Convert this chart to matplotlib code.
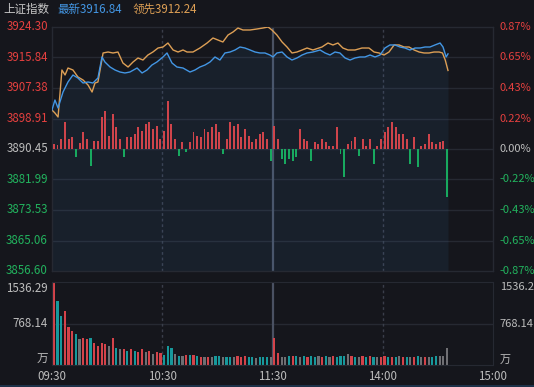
import numpy as np
import matplotlib
matplotlib.use("Agg")
import matplotlib.pyplot as plt
from matplotlib.patches import Rectangle

plt.rcParams['font.family'] = ['Noto Sans CJK SC', 'DejaVu Sans']

# ---------------- data ----------------
index_name = "上证指数"
latest_label = "最新3916.84"
lead_label = "领先3912.24"

price_ticks = [3924.30, 3915.84, 3907.38, 3898.91, 3890.45, 3881.99, 3873.53, 3865.06, 3856.60]
pct_ticks = ["0.87%", "0.65%", "0.43%", "0.22%", "0.00%", "-0.22%", "-0.43%", "-0.65%", "-0.87%"]
prev_close = 3890.45

time_ticks = [0, 60, 120, 180, 240]
time_labels = ["09:30", "10:30", "11:30", "14:00", "15:00"]

# latest price (minutes from open, price)
latest_t = [0, 1.6, 3.3, 6, 8.7, 11.4, 14.1, 16.9, 19.6, 22.3, 25, 27.2, 28.8, 31.6, 34.3, 37, 39.7,
            42.4, 46.3, 49, 51.7, 54.4, 57.1, 60.4, 62.6, 65.3, 68, 71.3, 75.1, 77.8, 80.5, 83.3, 86,
            88.7, 91.4, 94.1, 96.9, 99.6, 102.3, 105, 107.8, 110.5, 113.2, 115.9, 118.6, 120.3, 122.4,
            125.2, 127.9, 130.6, 133.3, 136.1, 138.8, 142, 145.9, 148.6, 151.3, 154, 156.7, 159.5,
            162.2, 164.9, 167.6, 170.3, 173.1, 175.8, 178.5, 181.2, 183.9, 186.7, 189.4, 192.1, 194.8,
            197.6, 200.3, 203, 205.7, 208.4, 211.2, 212.8, 214.5, 215.5]
latest_v = [3901.27, 3904.04, 3901.83, 3906.26, 3909.04, 3910.98, 3910.15, 3908.76, 3909.04, 3908.76,
            3910.15, 3915.98, 3914.59, 3913.20, 3912.37, 3911.81, 3911.54, 3911.81, 3912.92, 3911.54,
            3912.37, 3913.76, 3914.59, 3915.98, 3917.09, 3914.31, 3913.20, 3912.92, 3911.81, 3912.37,
            3913.20, 3913.76, 3914.59, 3915.98, 3915.14, 3917.09, 3917.36, 3917.92, 3918.75, 3918.47,
            3917.92, 3917.36, 3917.09, 3917.09, 3916.53, 3915.98, 3917.09, 3917.36, 3915.98, 3915.14,
            3915.70, 3916.53, 3917.09, 3917.36, 3917.92, 3917.09, 3916.53, 3917.36, 3917.09, 3915.70,
            3915.14, 3915.70, 3915.98, 3915.98, 3916.53, 3915.98, 3916.53, 3918.47, 3919.31, 3919.31,
            3918.75, 3918.47, 3917.92, 3918.47, 3918.47, 3918.75, 3918.75, 3919.31, 3919.86, 3918.75,
            3915.98, 3916.84]

# leading index
lead_t = [0, 1.6, 3.3, 5.4, 7.1, 8.7, 11.4, 14.1, 16.9, 19.6, 21.8, 23.4, 25, 27.8, 30.5, 33.2, 35.9,
          38.6, 41.4, 44.1, 46.8, 49.5, 52.2, 54.9, 57.7, 60.4, 63.1, 65.9, 68.6, 71.3, 73.5, 76.7,
          80.5, 84.4, 87.6, 90.3, 93, 95.8, 98.5, 101.2, 103.9, 107.8, 111.6, 114.8, 117.6, 119.7,
          122.4, 125.2, 127.9, 130.6, 133.3, 136.1, 138.8, 142, 146.9, 150.2, 152.9, 155.6, 158.3,
          161.1, 164.9, 168.7, 172.5, 175.3, 178, 180.7, 183.4, 186.2, 188.9, 191.6, 194.3, 197.1,
          199.8, 202.5, 205.2, 207.9, 210.7, 212.5, 214, 215.5]
lead_v = [3901.27, 3900.44, 3899.33, 3912.37, 3910.98, 3912.92, 3912.37, 3910.43, 3909.59, 3908.21,
          3906.26, 3908.76, 3909.04, 3917.09, 3917.36, 3917.09, 3917.36, 3914.31, 3913.20, 3914.59,
          3915.70, 3915.14, 3916.53, 3917.36, 3918.47, 3918.75, 3919.86, 3917.92, 3917.36, 3917.92,
          3917.36, 3917.36, 3918.47, 3919.86, 3921.25, 3920.69, 3920.14, 3922.08, 3922.91, 3924.02,
          3923.47, 3923.47, 3923.75, 3924.02, 3924.30, 3923.47, 3922.08, 3920.14, 3918.75, 3917.09,
          3917.36, 3917.92, 3918.47, 3917.92, 3918.75, 3919.86, 3919.31, 3919.86, 3918.47, 3917.92,
          3917.92, 3918.47, 3918.47, 3917.36, 3917.09, 3916.53, 3917.36, 3919.31, 3919.31, 3918.75,
          3918.75, 3917.92, 3917.36, 3917.09, 3917.09, 3917.36, 3917.36, 3917.09, 3915.14, 3912.24]

# buy/sell strength bars (2-minute buckets, arbitrary units)
strength = [5, 4, 10, 27, 10, 12, -8, 6, 17, 10, -17, 8, 8, 32, 38, 13, 35, 22, 10, -8,
            12, 12, 15, 22, 18, 25, 27, 20, 23, 10, 18, 48, 25, 10, -7, 7, -3, 7, 17, 13,
            12, 20, 17, 22, 25, 17, -5, 10, 27, 23, 25, 12, 20, 13, 7, 10, 15, 17, 10, -12,
            23, 10, -10, -15, -10, -12, -8, 20, 10, 8, -12, 7, 5, 10, 7, 3, 3, 22, -5, -28,
            5, 8, 12, -7, 10, 3, 10, -15, 3, 10, 17, 22, 27, 22, 15, 15, 10, -15, 12, -18,
            3, 5, 15, 7, 5, 7, 8, -48]

# volume (2-minute buckets, 万) and bar colour code: r=up, g=down, n=flat
volume = [1536, 1177, 903, 994, 700, 628, 567, 476, 506, 476, 506, 415, 354, 415, 384, 354, 494, 323,
          293, 293, 262, 293, 262, 232, 293, 232, 250, 201, 232, 214, 189, 354, 323, 201, 171, 171,
          180, 185, 185, 165, 150, 155, 150, 150, 165, 175, 150, 145, 150, 140, 160, 150, 175, 140,
          140, 135, 150, 140, 150, 150, 506, 230, 150, 145, 170, 160, 175, 150, 165, 140, 160, 150,
          170, 145, 160, 150, 175, 155, 165, 160, 195, 170, 150, 145, 160, 150, 165, 155, 140, 150,
          160, 145, 155, 150, 165, 145, 150, 140, 155, 160, 145, 150, 155, 150, 160, 165, 170, 323]
vol_dir = list("rggrrrgnrrgrrrrnrgnrgrgrrnrnrrgggngnrgrgrnrnggnggnrrrggngggnrrnngrgngrgg"
               "nrgnrgggnrgnrgrgnrrgrgnrgnrgnrnggnnng")

vol_ticks = [1536.29, 768.14]

# ---------------- style ----------------
BG = "#15161c"
GRID = "#262932"
RED = "#e5403f"
GREEN = "#22b35e"
GRAY_TXT = "#bdbdbd"
BLUE = "#4396e4"
ORANGE = "#dd9f55"
BAR_RED = "#cf444b"
BAR_GREEN = "#18a95f"
VOL_COL = {"r": "#d4434a", "g": "#17999c", "n": "#6f6f73"}

W, H = 534, 387
fig = plt.figure(figsize=(W / 100, H / 100), dpi=100, facecolor=BG)

def fx(px):
    return px / W

def fy(py):
    return 1 - py / H

# bottom status strip
fig.patches.append(Rectangle((0, 0), 1, 2 / H, transform=fig.transFigure,
                             facecolor="#1d3148", edgecolor="none"))

# main axes
L, R = 52, 493
ax = fig.add_axes([fx(L), fy(271), fx(R - L), fy(27) - fy(271)])
ax.set_facecolor(BG)
ax.set_xlim(0, 240)
ax.set_ylim(price_ticks[-1], price_ticks[0])
for s in ax.spines.values():
    s.set_color(GRID)
    s.set_linewidth(1)
ax.set_xticks([])
ax.set_yticks([])
for p in price_ticks[1:-1]:
    ax.axhline(p, color=GRID, lw=1, zorder=0)
ax.fill_between(latest_t, latest_v, price_ticks[-1], color=BLUE, alpha=0.08, lw=0, zorder=1)

# strength bars on their own symmetric scale
axb = ax.twinx()
axb.set_ylim(-122, 122)
axb.set_xlim(0, 240)
axb.axis("off")
t_str = np.arange(len(strength)) * 2 + 1
cols = [BAR_RED if v > 0 else BAR_GREEN for v in strength]
axb.bar(t_str, strength, width=1.05, color=cols, lw=0)

# lines
axl = ax.twinx()
axl.set_ylim(price_ticks[-1], price_ticks[0])
axl.set_xlim(0, 240)
axl.axis("off")
axl.plot(lead_t, lead_v, color=ORANGE, lw=1.0)
axl.plot(latest_t, latest_v, color=BLUE, lw=1.0)

# volume axes
axv = fig.add_axes([fx(L), fy(365), fx(R - L), fy(282) - fy(365)])
axv.set_facecolor(BG)
axv.set_xlim(0, 240)
axv.set_ylim(0, vol_ticks[0])
for s in axv.spines.values():
    s.set_color(GRID)
axv.set_xticks([])
axv.set_yticks([])
axv.axhline(vol_ticks[1], color=GRID, lw=1, zorder=0)
t_vol = np.arange(len(volume)) * 2 + 1
axv.bar(t_vol, volume, width=1.2, color=[VOL_COL[c] for c in vol_dir], lw=0)

# vertical time lines
for a in (ax, axv):
    a.axvline(60, color="#3a3e4a", lw=1, ls=(0, (2, 2)), zorder=0.5)
    a.axvline(180, color="#3a3e4a", lw=1, ls=(0, (2, 2)), zorder=0.5)
    a.axvline(120, color="#4a5162", lw=1.6, zorder=0.5)

# price labels
fs = 8
ytr = ax.get_yaxis_transform()
for i, (p, pc) in enumerate(zip(price_ticks, pct_ticks)):
    c = RED if p > prev_close + 0.01 else (GREEN if p < prev_close - 0.01 else GRAY_TXT)
    ax.text(-0.009, p, f"{p:.2f}", transform=ytr, ha="right", va="center", color=c, fontsize=8.3)
    ax.text(1.015, p, pc, transform=ytr, ha="left", va="center", color=c, fontsize=fs)

vtr = axv.get_yaxis_transform()
axv.text(-0.009, vol_ticks[0], f"{vol_ticks[0]:.2f}", transform=vtr, ha="right", va="top", color=GRAY_TXT, fontsize=8.3)
axv.text(1.015, vol_ticks[0], f"{vol_ticks[0]:.2f}", transform=vtr, ha="left", va="top", color=GRAY_TXT, fontsize=fs)
axv.text(-0.009, vol_ticks[1], f"{vol_ticks[1]:.2f}", transform=vtr, ha="right", va="center", color=GRAY_TXT, fontsize=8.3)
axv.text(1.015, vol_ticks[1], f"{vol_ticks[1]:.2f}", transform=vtr, ha="left", va="center", color=GRAY_TXT, fontsize=fs)
axv.text(-0.009, 0, "万", transform=vtr, ha="right", va="bottom", color=GRAY_TXT, fontsize=8.3)
axv.text(1.015, 0, "万", transform=vtr, ha="left", va="bottom", color=GRAY_TXT, fontsize=fs)

# time labels
xtr = axv.get_xaxis_transform()
for t, lab in zip(time_ticks, time_labels):
    axv.text(t, -(377 - 365) / 83, lab, transform=xtr, ha="center", va="center", color=GRAY_TXT, fontsize=8.3)

# header
fig.text(fx(3), fy(9), index_name, ha="left", va="center", color="#c8c8c8", fontsize=8.3)
fig.text(fx(57), fy(9), latest_label, ha="left", va="center", color=BLUE, fontsize=8.3)
fig.text(fx(133), fy(9), lead_label, ha="left", va="center", color=ORANGE, fontsize=8.3)

fig.savefig("out.png", dpi=100, facecolor=BG)
